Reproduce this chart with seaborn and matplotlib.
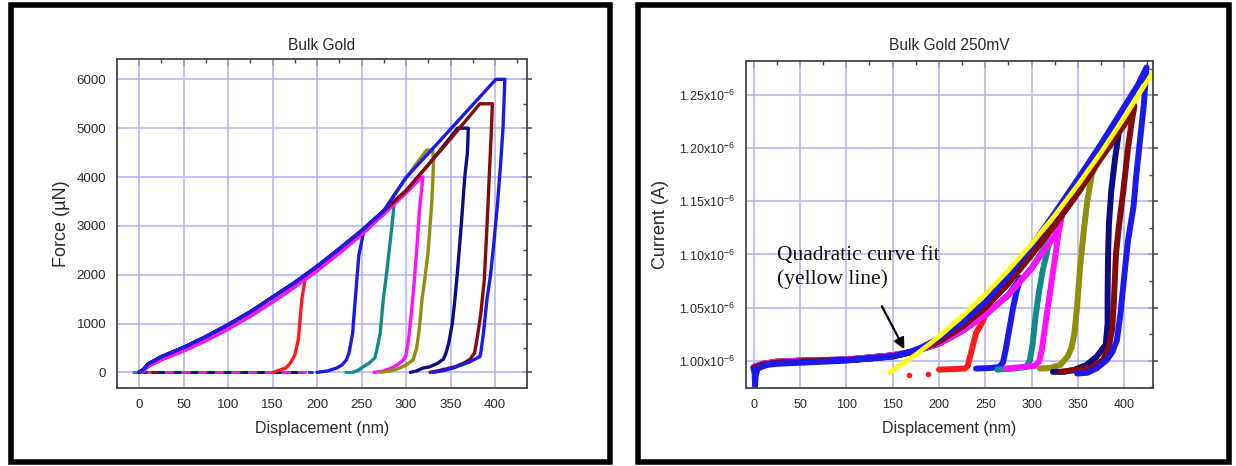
import matplotlib
matplotlib.use("Agg")
import numpy as np
import pandas as pd
import matplotlib.pyplot as plt
from matplotlib.patches import Rectangle
from matplotlib.ticker import MultipleLocator, FuncFormatter
import seaborn as sns

sns.set_style("white")
plt.rcParams["font.family"] = ["Liberation Sans", "DejaVu Sans"]
plt.rcParams["mathtext.default"] = "regular"

# ---------------- Bulk Gold: force vs displacement ----------------
# shared loading branch: displacement (nm) / force (uN)
LOAD_X = [0, 5, 10, 25, 50, 75, 100, 125, 150, 175, 200, 225, 250, 275, 300]
LOAD_F = [0, 60, 170, 320, 510, 730, 975, 1240, 1540, 1840, 2170, 2530, 2900, 3310, 3720]
LOAD_F_LOW = [0, 30, 120, 260, 440, 650, 890, 1150, 1440, 1750, 2080, 2440, 2820, 3240, 3670]

FORCE_NAMES = ["2000", "3000", "3500", "4000", "4500", "5000", "5500", "6000"]
FORCE_COLORS = ["#ff1a1a", "#1a1aee", "#128a8a", "#ff10ff", "#8f8f0a",
                "#0c0c85", "#850a0a", "#1a1aee"]
FORCE_LOW_BASE = [True, False, True, True, False, False, False, False]

# remaining loading, hold and unloading segments of each indent
f2000_x = [186, 187, 183, 179, 175, 170, 165, 158, 151]
f2000_F = [1950, 1950, 1500, 670, 350, 186, 90, 48, 0]
f3000_x = [252, 253, 247, 243, 240, 236, 233, 228, 222, 212, 200]
f3000_F = [2930, 2930, 2400, 1500, 800, 400, 255, 150, 89, 30, 0]
f3500_x = [286, 287, 283, 278, 274.5, 271, 267, 265, 258, 252, 246, 240]
f3500_F = [3500, 3500, 2800, 2000, 1500, 800, 450, 296, 180, 116, 40, 0]
f4000_x = [318, 319, 315, 312, 309, 306, 303, 300, 297, 290, 284, 275, 264]
f4000_F = [4000, 4000, 3300, 2500, 1800, 1200, 700, 350, 250, 150, 90, 30, 0]
f4500_x = [300, 323, 330, 331, 329, 325, 321, 318, 315, 312, 308, 300, 293, 283, 271]
f4500_F = [3980, 4550, 4550, 4300, 3500, 2500, 1900, 1500, 900, 500, 255, 150, 89, 30, 0]
f5000_x = [325, 345, 358, 370, 369, 366, 362, 358, 355, 352, 348, 345, 342, 335, 326, 319, 312, 305]
f5000_F = [4250, 4700, 5000, 5000, 4500, 4000, 3000, 2100, 1500, 1000, 600, 400, 270, 180, 110, 89, 30, 0]
f5500_x = [325, 350, 383, 397, 396, 394, 391, 388, 384, 380, 377, 372, 365, 355, 345, 335, 327]
f5500_F = [4250, 4780, 5500, 5500, 5000, 4200, 3000, 1900, 1200, 700, 400, 269, 190, 116, 70, 30, 0]
f6000_x = [300, 325, 350, 375, 401, 411, 409, 406, 403, 399, 395, 391, 387, 384, 383, 372, 362, 353, 343, 331]
f6000_F = [3990, 4480, 4980, 5480, 6000, 6000, 5000, 4200, 3500, 2700, 2000, 1500, 800, 400, 323, 219, 150, 89, 40, 0]
FORCE_TAILS = [(f2000_x, f2000_F), (f3000_x, f3000_F), (f3500_x, f3500_F), (f4000_x, f4000_F),
               (f4500_x, f4500_F), (f5000_x, f5000_F), (f5500_x, f5500_F), (f6000_x, f6000_F)]

# pre-contact (zero force) approach segments
APPROACH_COLORS = ["#128a8a", "#ff1a1a", "#1a1aee", "#0c0c85", "#850a0a", "#ff10ff", "#128a8a"]
APPROACH_START = [-8, 10, 2, 20, 14, 30, 230]
APPROACH_END = [4, 195, 195, 180, 170, 190, 246]

# ---------------- Bulk Gold 250mV: current vs displacement ----------------
# current values in units of 1e-6 A
CUR_LOW_X = [0, 10, 25, 50, 75, 100, 125, 150, 175, 200, 225, 250, 275, 300, 325, 335]
CUR_LOW_I = [0.994, 0.997, 0.999, 1.000, 1.0005, 1.001, 1.003, 1.005, 1.009, 1.016,
             1.028, 1.043, 1.062, 1.087, 1.118, 1.130]
CUR_MID_X = [0, 10, 25, 50, 75, 100, 125, 150, 175, 200, 225, 250, 275, 300, 325, 350, 375, 400, 412]
CUR_MID_I = [0.993, 0.996, 0.998, 0.999, 1.000, 1.0005, 1.002, 1.004, 1.009, 1.018, 1.032,
             1.050, 1.073, 1.100, 1.128, 1.158, 1.191, 1.222, 1.241]
CUR_TOP_X = [0, 1, 1.5, 2, 4, 8, 15, 25, 50, 75, 100, 125, 150, 165, 180, 200, 225, 250,
             275, 300, 325, 350, 375, 400, 415, 424]
CUR_TOP_I = [0.992, 0.988, 0.976, 0.985, 0.992, 0.994, 0.996, 0.997, 0.998, 0.999, 1.000,
             1.002, 1.004, 1.007, 1.012, 1.021, 1.036, 1.055, 1.080, 1.108, 1.139, 1.171,
             1.204, 1.239, 1.260, 1.276]

CUR_BASES = ["low", "low", "low", "low", "mid", "mid", "mid", "top"]
c2000_x = [250, 246, 240, 236, 233, 231, 228, 215, 200]
c2000_I = [1.043, 1.035, 1.026, 1.012, 1.002, 0.995, 0.9925, 0.992, 0.9915]
c3000_x = [288, 284, 280, 276, 272, 269, 265, 255, 240]
c3000_I = [1.078, 1.066, 1.050, 1.030, 1.010, 0.998, 0.994, 0.993, 0.9925]
c3500_x = [320, 316, 312, 308, 304, 301, 298, 294, 280, 263]
c3500_I = [1.115, 1.100, 1.085, 1.065, 1.040, 1.015, 1.000, 0.994, 0.9925, 0.9915]
c4000_x = [333, 329, 325, 320, 315, 311, 308, 303, 290, 272]
c4000_I = [1.138, 1.120, 1.095, 1.065, 1.035, 1.010, 0.999, 0.995, 0.994, 0.9925]
c4500_x = [370, 365, 360, 356, 352, 349, 346, 343, 339, 331, 320, 309]
c4500_I = [1.186, 1.175, 1.150, 1.120, 1.085, 1.050, 1.025, 1.012, 1.004, 0.996, 0.993, 0.9925]
c5000_x = [394, 390, 386, 383.5, 382.5, 382, 382, 380, 370, 359, 345, 334, 323]
c5000_I = [1.214, 1.190, 1.160, 1.130, 1.100, 1.060, 1.035, 1.015, 1.0036, 0.9958, 0.991, 0.9894, 0.9894]
c5500_x = [411, 408, 404, 399, 394, 391, 389, 387, 383, 377, 363, 345, 331]
c5500_I = [1.240, 1.225, 1.200, 1.160, 1.125, 1.100, 1.060, 1.030, 1.012, 1.0005, 0.9926, 0.991, 0.9894]
c6000_x = [424, 421, 417, 413, 410, 404, 400, 396, 392, 387, 381, 370, 360, 349]
c6000_I = [1.276, 1.240, 1.2075, 1.175, 1.145, 1.113, 1.080, 1.045, 1.019, 1.008, 1.0005, 0.9926, 0.9885, 0.9879]
CUR_TAILS = [(c2000_x, c2000_I), (c3000_x, c3000_I), (c3500_x, c3500_I), (c4000_x, c4000_I),
             (c4500_x, c4500_I), (c5000_x, c5000_I), (c5500_x, c5500_I), (c6000_x, c6000_I)]

# quadratic fit of the loading envelope
FIT_X = [147, 175, 200, 225, 250, 275, 300, 325, 350, 375, 400, 430]
FIT_I = [0.989, 1.0056, 1.0226, 1.0415, 1.0623, 1.0852, 1.1100, 1.1367, 1.1655, 1.1961, 1.2288, 1.2706]

# stray points below the baseline
DOT_X = [168, 188]
DOT_I = [0.9865, 0.9875]


def build_frame(names, tails, bases):
    rows = []
    for name, (tx, ty), (bx, by) in zip(names, tails, bases):
        px = [x for x in bx if x < tx[0]] + list(tx)
        py = [y for x, y in zip(bx, by) if x < tx[0]] + list(ty)
        for i, (x, y) in enumerate(zip(px, py)):
            rows.append({"disp": x, "val": y, "curve": name, "step": i})
    return pd.DataFrame(rows)


force_bases = [(LOAD_X, LOAD_F_LOW) if low else (LOAD_X, LOAD_F) for low in FORCE_LOW_BASE]
force_df = build_frame(FORCE_NAMES, FORCE_TAILS, force_bases)

cur_base_map = {"low": (CUR_LOW_X, CUR_LOW_I), "mid": (CUR_MID_X, CUR_MID_I),
                "top": (CUR_TOP_X, CUR_TOP_I)}
cur_df = build_frame(FORCE_NAMES, CUR_TAILS, [cur_base_map[b] for b in CUR_BASES])

W, H = 1236, 466
fig = plt.figure(figsize=(W / 100, H / 100), dpi=100)
fig.patch.set_facecolor("white")

ax1 = fig.add_axes([117.3 / W, 1 - 387.7 / H, (526.7 - 117.3) / W, (387.7 - 59.3) / H])
ax2 = fig.add_axes([746 / W, 1 - 387.7 / H, (1153 - 746) / W, (387.7 - 60.7) / H])

GRID = "#b0b0f2"
SPINE = "#444444"
TXT = "#2a2a2a"


def style_axes(ax, xmaj, xmin, ymaj, ymin, labelsize):
    ax.set_axisbelow(True)
    ax.grid(True, which="major", color=GRID, lw=1.1)
    ax.xaxis.set_major_locator(MultipleLocator(xmaj))
    ax.xaxis.set_minor_locator(MultipleLocator(xmin))
    ax.yaxis.set_major_locator(MultipleLocator(ymaj))
    ax.yaxis.set_minor_locator(MultipleLocator(ymin))
    for s in ax.spines.values():
        s.set_color(SPINE)
        s.set_linewidth(1.3)
    ax.tick_params(which="major", direction="out", length=5, width=1.1, color=SPINE,
                   labelsize=labelsize, labelcolor=TXT, pad=3)
    ax.tick_params(which="minor", direction="out", length=3, width=1.0, color=SPINE)
    top = ax.secondary_xaxis("top")
    top.xaxis.set_major_locator(MultipleLocator(xmaj))
    top.xaxis.set_minor_locator(MultipleLocator(xmin))
    top.tick_params(which="major", direction="in", length=5, width=1.1, color=SPINE, labeltop=False)
    top.tick_params(which="minor", direction="in", length=3, width=1.0, color=SPINE)
    top.spines["top"].set_visible(False)
    right = ax.secondary_yaxis("right")
    right.yaxis.set_major_locator(MultipleLocator(ymaj))
    right.yaxis.set_minor_locator(MultipleLocator(ymin))
    right.tick_params(which="major", direction="inout", length=7, width=1.1, color=SPINE, labelright=False)
    right.tick_params(which="minor", direction="in", length=3, width=1.0, color=SPINE)
    right.spines["right"].set_visible(False)


# ---- left panel ----
for c, x0, x1 in zip(APPROACH_COLORS, APPROACH_START, APPROACH_END):
    ax1.plot([x0, x1], [0, 0], color=c, lw=2.0, ls=(0, (2.5, 3.5)), solid_capstyle="butt")
sns.lineplot(data=force_df, x="disp", y="val", hue="curve", hue_order=FORCE_NAMES,
             palette=FORCE_COLORS, sort=False, estimator=None, lw=2.4, legend=False, ax=ax1)
ax1.set_xlim(-24.4, 435.6)
ax1.set_ylim(-314, 6410)
style_axes(ax1, 50, 25, 1000, 500, 9.6)
ax1.set_title("Bulk Gold", fontsize=11.2, color=TXT, pad=6.5)
ax1.set_xlabel("Displacement (nm)", fontsize=11.5, color=TXT)
ax1.set_ylabel("Force (\u00b5N)", fontsize=13, color=TXT)
ax1.xaxis.set_label_coords(0.5, -0.102)
ax1.yaxis.set_label_coords(-0.115, 0.5)

# ---- right panel ----
sns.lineplot(data=cur_df, x="disp", y="val", hue="curve", hue_order=FORCE_NAMES,
             palette=FORCE_COLORS, sort=False, estimator=None, lw=4.3, legend=False, ax=ax2)
ax2.scatter(DOT_X, DOT_I, s=9, color="#ff1a1a", zorder=3)
sns.lineplot(x=FIT_X, y=FIT_I, color="#ffff00", lw=3.4, sort=False, estimator=None, ax=ax2)
ax2.set_xlim(-8.3, 431)
ax2.set_ylim(0.9745, 1.2824)
style_axes(ax2, 50, 25, 0.05, 0.025, 9.0)
ax2.yaxis.set_major_formatter(FuncFormatter(lambda v, p: f"{v:.2f}x10$^{{-6}}$"))
ax2.set_title("Bulk Gold 250mV", fontsize=11.2, color=TXT, pad=7.5)
ax2.set_xlabel("Displacement (nm)", fontsize=11.5, color=TXT)
ax2.set_ylabel("Current (A)", fontsize=13, color=TXT)
ax2.xaxis.set_label_coords(0.5, -0.102)
ax2.yaxis.set_label_coords(-0.188, 0.5)

ax2.annotate("", xy=(164, 1.0085), xytext=(137, 1.0535),
             arrowprops=dict(arrowstyle="-|>", color="black", lw=1.6, mutation_scale=16))
ax2.text(25, 1.108, "Quadratic curve fit\n(yellow line)", family=["Liberation Serif", "DejaVu Serif"],
         fontsize=15.5, va="top", ha="left", linespacing=1.3, color="#111111")

# ---- panel frames ----
for x0, x1 in [(10.5, 610.3), (638, 1228.5)]:
    fig.add_artist(Rectangle((x0 / W, 1 - 461.5 / H), (x1 - x0) / W, (461.5 - 5) / H,
                             transform=fig.transFigure, fill=False, lw=4.0, ec="black"))

fig.savefig("out.png", dpi=100, facecolor="white")
